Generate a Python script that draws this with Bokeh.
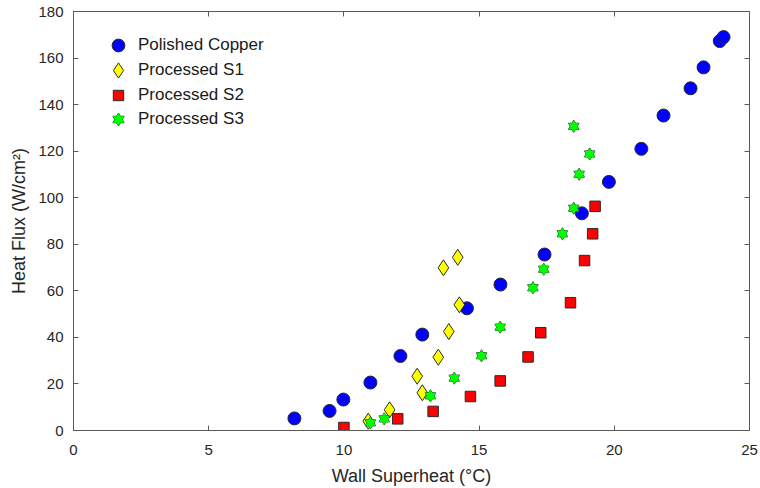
from bokeh.plotting import figure
from bokeh.models import Range1d, LinearAxis, Legend, LegendItem, FixedTicker, ColumnDataSource
from bokeh.embed import file_html
from bokeh.resources import INLINE

# Data
cu_x = [8.17, 9.47, 9.98, 10.98, 12.09, 12.9, 14.55, 15.79, 17.42, 18.8, 19.8, 21.0, 21.82, 22.82, 23.3, 23.9, 24.04]
cu_y = [5.2, 8.4, 13.3, 20.6, 32.0, 41.2, 52.5, 62.7, 75.6, 93.3, 106.8, 121.0, 135.3, 147.0, 156.0, 167.3, 169.0]

s1_x = [10.9, 11.69, 12.9, 12.71, 13.49, 13.88, 14.27, 13.68, 14.21]
s1_y = [4.0, 8.9, 16.2, 23.3, 31.5, 42.5, 54.0, 69.9, 74.4]

s2_x = [10.0, 11.99, 13.3, 14.68, 15.78, 16.81, 17.28, 18.38, 18.9, 19.2, 19.29]
s2_y = [1.3, 5.0, 8.2, 14.6, 21.3, 31.6, 42.0, 54.9, 73.0, 84.5, 96.3]

s3_x = [10.98, 11.49, 13.2, 14.08, 15.09, 15.78, 16.99, 17.39, 18.08, 18.5, 18.7, 19.09, 18.5]
s3_y = [3.3, 5.0, 14.9, 22.5, 32.1, 44.4, 61.3, 69.3, 84.5, 95.5, 110.1, 118.8, 130.7]

series_labels = ["Polished Copper", "Processed S1", "Processed S2", "Processed S3"]
x_ticks = [0, 5, 10, 15, 20, 25]
y_ticks = [0, 20, 40, 60, 80, 100, 120, 140, 160, 180]

FONT = "Liberation Sans"
TXT = "#262626"
AXC = "#5a5a5a"
EDGE = "#2a2a2a"

W, H = 760, 488
FL, FR, FT, FB = 73, 11, 11, 58   # borders around the frame
FH = H - FT - FB

p = figure(width=W, height=H, output_backend="svg", toolbar_location=None,
           x_range=Range1d(0, 25), y_range=Range1d(0, 180),
           min_border_left=FL, min_border_right=FR, min_border_top=FT, min_border_bottom=FB)
p.xgrid.visible = False
p.ygrid.visible = False
p.outline_line_color = AXC
p.outline_line_width = 1
p.background_fill_color = "white"
p.border_fill_color = "white"


def style_axis(ax, ticks, labels=True):
    ax.ticker = FixedTicker(ticks=ticks)
    ax.axis_line_color = AXC
    ax.major_tick_line_color = AXC
    ax.major_tick_in = 5
    ax.major_tick_out = 0
    ax.minor_tick_line_color = None
    ax.major_label_text_font = FONT
    ax.major_label_text_color = TXT
    ax.major_label_text_font_size = "15px"
    ax.axis_label_text_font = FONT
    ax.axis_label_text_color = TXT
    ax.axis_label_text_font_size = "18px"
    ax.axis_label_text_font_style = "normal"
    if not labels:
        ax.major_label_overrides = {t: "" for t in ticks}
        ax.major_label_text_font_size = "1px"
        ax.major_label_standoff = 0
        ax.axis_label = None


xa = p.xaxis[0]
ya = p.yaxis[0]
style_axis(xa, x_ticks)
style_axis(ya, y_ticks)
xa.axis_label = "Wall Superheat (\u00b0C)"
ya.axis_label = "Heat Flux (W/cm\u00b2)"
xa.major_label_standoff = 14
ya.major_label_standoff = 10
xa.axis_label_standoff = 8
ya.axis_label_standoff = 6

top = LinearAxis()
right = LinearAxis()
style_axis(top, x_ticks, labels=False)
style_axis(right, y_ticks, labels=False)
p.add_layout(top, "above")
p.add_layout(right, "right")

src_cu = ColumnDataSource(dict(x=cu_x, y=cu_y))
src_s1 = ColumnDataSource(dict(x=s1_x, y=s1_y))
src_s2 = ColumnDataSource(dict(x=s2_x, y=s2_y))
src_s3 = ColumnDataSource(dict(x=s3_x, y=s3_y))

r_cu = p.scatter("x", "y", source=src_cu, marker="circle", size=13,
                 fill_color="#0000ff", line_color=EDGE, line_width=1)
r_s1 = p.scatter("x", "y", source=src_s1, marker="diamond", size=16,
                 fill_color="#ffff00", line_color=EDGE, line_width=1)
r_s2 = p.scatter("x", "y", source=src_s2, marker="square", size=10.5,
                 fill_color="#ff0000", line_color=EDGE, line_width=1)
# hexagram: two outlined triangles, then fills on top to hide the inner edges
r_s3a = p.scatter("x", "y", source=src_s3, marker="triangle", size=10.5,
                  fill_color="#00ff00", line_color="#1f3f1f", line_width=1)
r_s3b = p.scatter("x", "y", source=src_s3, marker="inverted_triangle", size=10.5,
                  fill_color="#00ff00", line_color="#1f3f1f", line_width=1)
r_s3c = p.scatter("x", "y", source=src_s3, marker="triangle", size=10.5,
                  fill_color="#00ff00", line_color=None)
r_s3d = p.scatter("x", "y", source=src_s3, marker="inverted_triangle", size=10.5,
                  fill_color="#00ff00", line_color=None)

# one legend per entry so each row can have its own marker size
entries = [
    (series_labels[0], [r_cu], 32, 34),
    (series_labels[1], [r_s1], 38, 59),
    (series_labels[2], [r_s2], 26, 84),
    (series_labels[3], [r_s3a, r_s3b, r_s3c, r_s3d], 28, 108),
]
CX, TX = 45, 65
for label, rends, g, cy in entries:
    half = g // 2
    lg = Legend(items=[LegendItem(label=label, renderers=rends)],
                location=(CX - half, FH - cy - half))
    lg.border_line_color = None
    lg.background_fill_alpha = 0
    lg.glyph_width = g
    lg.glyph_height = g
    lg.label_height = g
    lg.padding = 0
    lg.margin = 0
    lg.spacing = 0
    lg.label_standoff = TX - CX - half
    lg.label_text_font = FONT
    lg.label_text_font_size = "17px"
    lg.label_text_color = "#1a1a1a"
    p.add_layout(lg, "center")

open("out.html", "w").write(file_html(p, INLINE))
